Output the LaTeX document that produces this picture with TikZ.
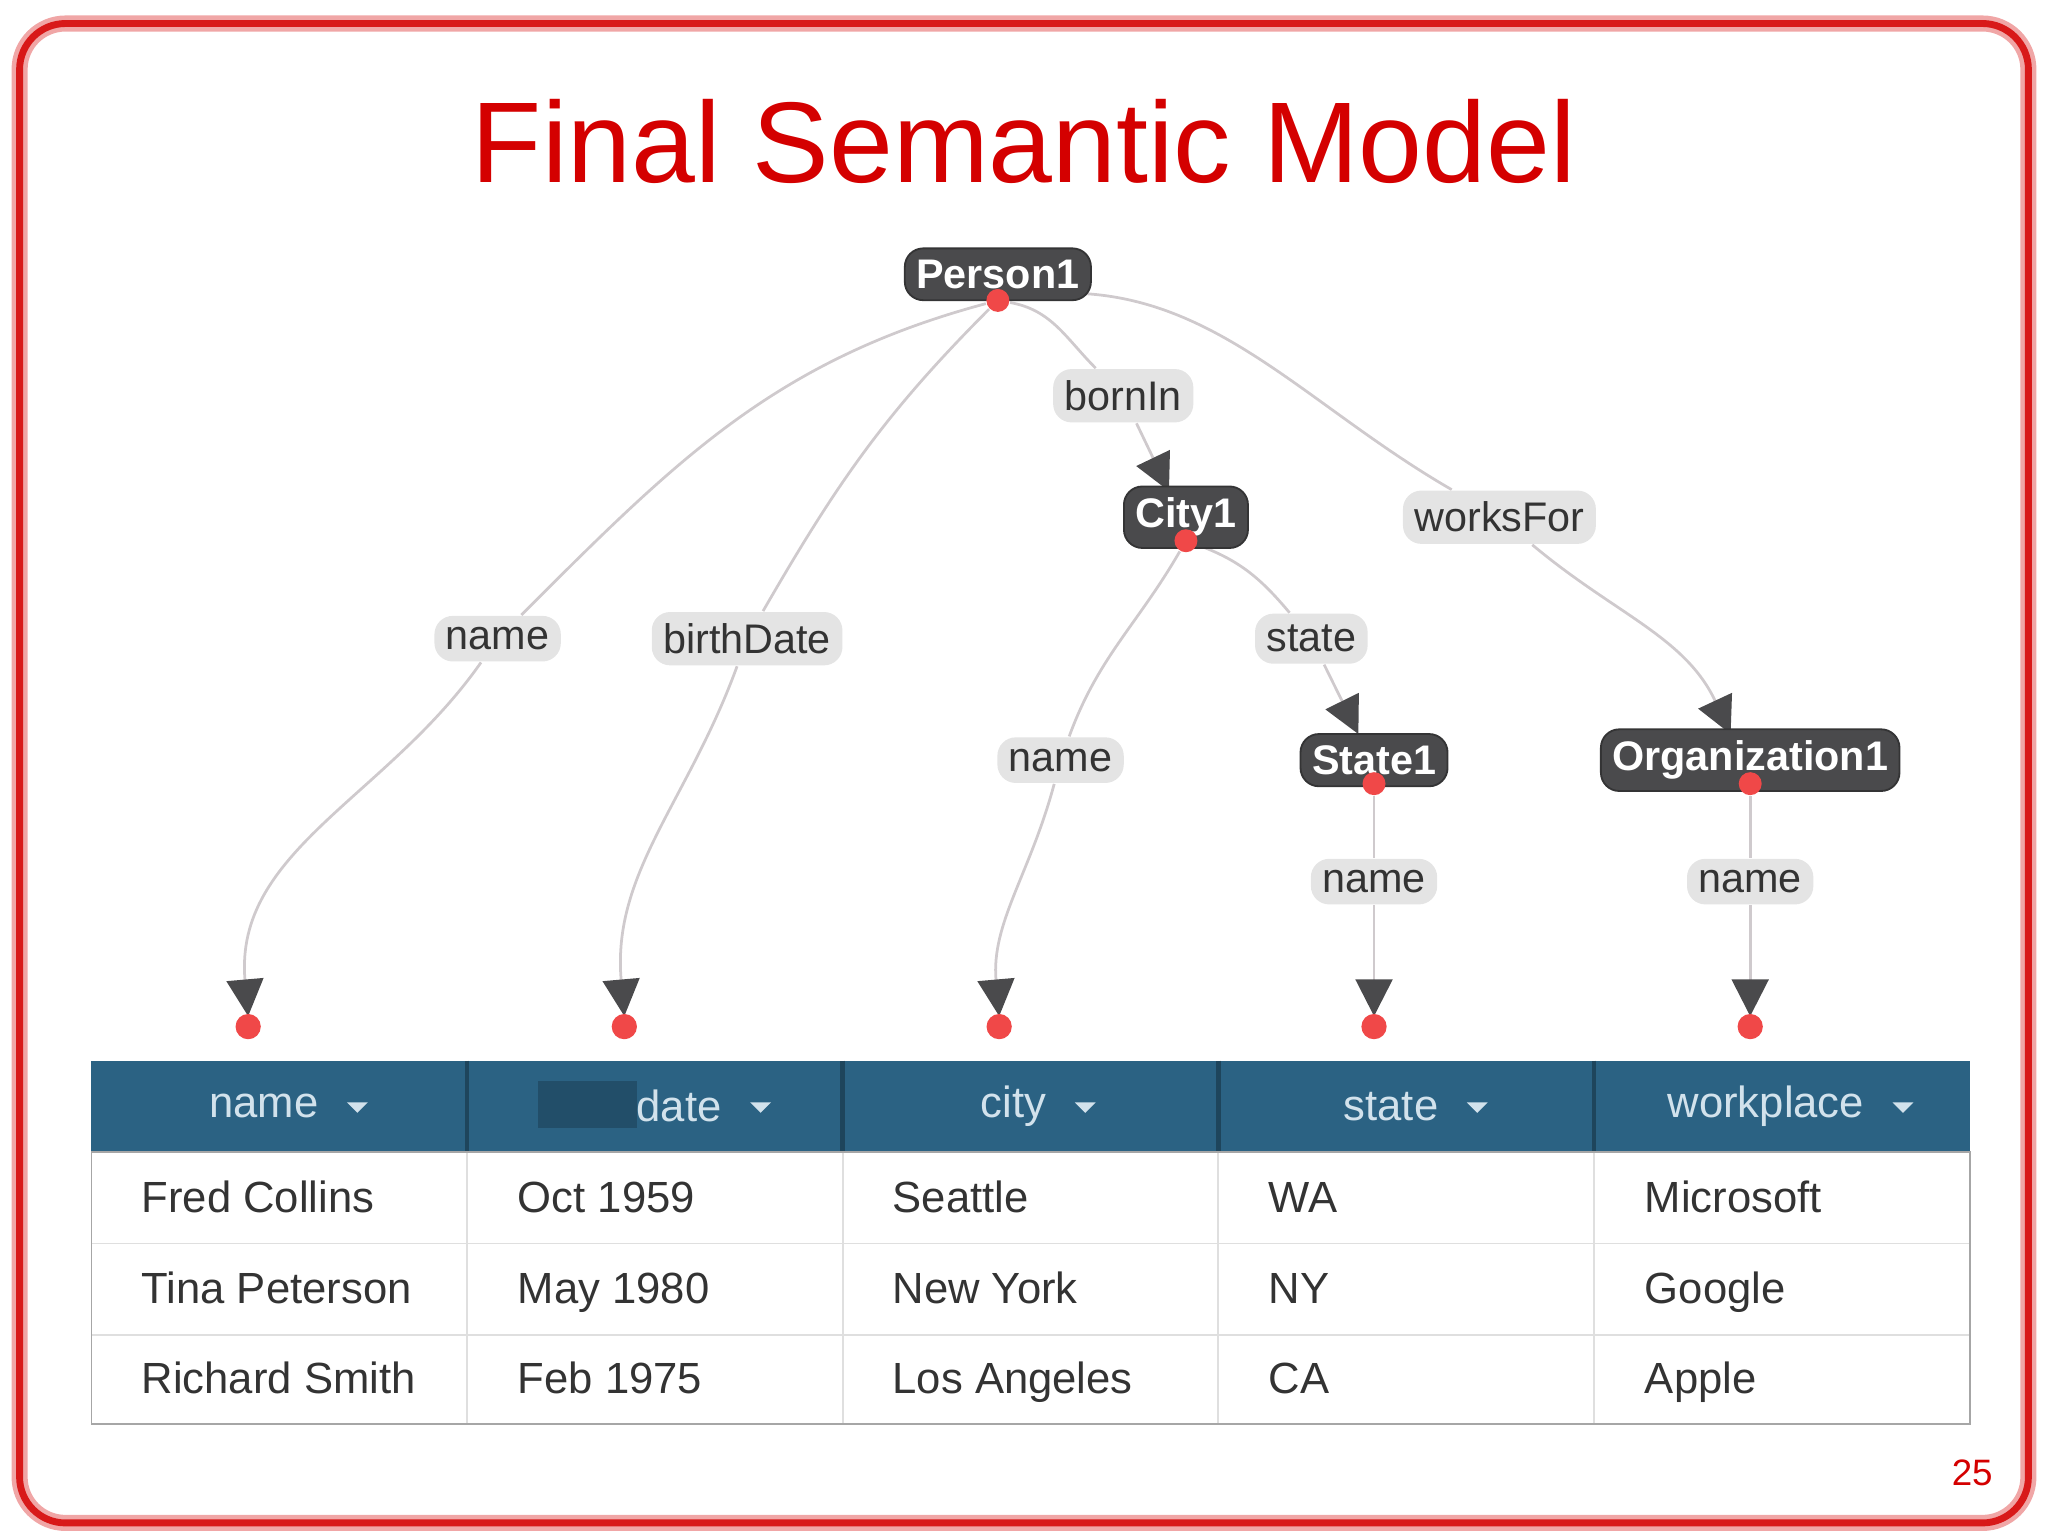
\documentclass[tikz,border=0pt]{standalone}
\usepackage{fontspec}
\setmainfont{Liberation Sans}
\usetikzlibrary{arrows.meta,backgrounds}
\definecolor{slidered}{HTML}{D40000}
\definecolor{nodegray}{HTML}{4A4A4C}
\definecolor{lblgray}{HTML}{E4E4E4}
\definecolor{edgegray}{HTML}{CFCACD}
\definecolor{headblue}{HTML}{2B6283}
\definecolor{headtext}{HTML}{D2E2EC}
\definecolor{celltext}{HTML}{333333}
\definecolor{dotred}{HTML}{F04848}
\begin{document}
\begin{tikzpicture}[x=0.01cm,y=-0.01cm,
  cls/.style={fill=nodegray,draw=nodegray!70!black,rounded corners=4pt,text=white,font=\fontsize{9}{11}\selectfont\bfseries,inner sep=2.5pt},
  lbl/.style={fill=lblgray,rounded corners=4pt,text=celltext,font=\fontsize{9}{11}\selectfont,inner sep=2.5pt},
  edge/.style={draw=edgegray,line width=0.6pt},
  arr/.style={edge,-{Triangle[length=8pt,width=8pt,fill=nodegray,color=nodegray]}},
  dot/.style={circle,fill=dotred,inner sep=0pt,minimum size=5pt},
  head/.style={text=headtext,font=\fontsize{9.5}{11}\selectfont,inner sep=0pt},
  cell/.style={anchor=base west,text=celltext,font=\fontsize{9.5}{11}\selectfont}]
\useasboundingbox (0,0) rectangle (1568,1176);
\draw[slidered!35,line width=3.5pt,rounded corners=10pt] (15,18) rectangle (1553,1166);
\draw[slidered!90,line width=1.5pt,rounded corners=10pt] (15,18) rectangle (1553,1166);

\node[text=slidered,font=\fontsize{25}{28}\selectfont] (title) at (784,108) {Final Semantic Model};
\node[text=slidered,font=\fontsize{8}{10}\selectfont] (page) at (1510,1128) {25};

% class nodes
\node[cls] (P) at (764,210) {Person1};
\node[cls] (C) at (908,396) {City1};
\node[cls] (S) at (1052,582) {State1};
\node[cls] (O) at (1340,582) {Organization1};

% property labels
\node[lbl] (bornL) at (860,303) {bornIn};
\node[lbl] (worksL) at (1148,396) {worksFor};
\node[lbl] (nameL) at (381,489) {name};
\node[lbl] (birthL) at (572,489) {birthDate};
\node[lbl] (stateL) at (1004,489) {state};
\node[lbl] (nameC) at (812,582) {name};
\node[lbl] (nameS) at (1052,675) {name};
\node[lbl] (nameO) at (1340,675) {name};

% dots
\node[dot] (dP) at (764,230) {};
\node[dot] (dC) at (908,414) {};
\node[dot] (dS) at (1052,600) {};
\node[dot] (dO) at (1340,600) {};
\foreach \x/\n in {190/1,478/2,765/3,1052/4,1340/5}{
  \node[dot,minimum size=5.5pt] (c\n) at (\x,786) {};
  \coordinate (t\n) at (\x,778);
}
\coordinate (tC) at (895,376);
\coordinate (tS) at (1040,562);
\coordinate (tO) at (1325,562);

\begin{scope}[on background layer]
\draw[edge] (dP) to[out=195,in=45] (nameL);
\draw[arr] (nameL) to[out=235,in=95] (t1);
\draw[edge] (dP) to[out=225,in=60] (birthL);
\draw[arr] (birthL) to[out=250,in=95] (t2);
\draw[edge] (dP) to[out=-10,in=135] (bornL);
\draw[arr] (bornL) -- (tC);
\draw[edge] (dP) to[out=10,in=150] (worksL);
\draw[arr] (worksL) to[out=-40,in=115] (tO);
\draw[edge] (dC) to[out=240,in=70] (nameC);
\draw[arr] (nameC) to[out=255,in=95] (t3);
\draw[edge] (dC) to[out=-20,in=130] (stateL);
\draw[arr] (stateL) -- (tS);
\draw[edge] (dS) -- (nameS);
\draw[arr] (nameS) -- (t4);
\draw[edge] (dO) -- (nameO);
\draw[arr] (nameO) -- (t5);
\end{scope}

% table
\fill[headblue] (70,812) rectangle (1508,882);
\fill[headblue!80!black] (412,828) rectangle (488,864);
\foreach \i in {1,2,3,4}{
  \draw[headblue!70!black,line width=1pt] (70+287.6*\i,812) -- (70+287.6*\i,882);
  \draw[gray!25] (70+287.6*\i,882) -- (70+287.6*\i,1090);
}
\draw[gray!25] (70,952) -- (1508,952) (70,1022) -- (1508,1022);
\draw[gray!70] (70,882) rectangle (1508,1090);
\foreach \x/\t/\n in {202/name/1,520/date/2,776/city/3,1065/state/4,1352/workplace/5}{
  \node[head] (h\n) at (\x,847) {\t};
  \fill[headtext] ([xshift=6]h\n.east) ++(0,-3) -- ++(16,0) -- ++(-8,8) -- cycle;
}
\node[cell] (r1a) at (96,928) {Fred Collins};
\node[cell] (r1b) at (384,928) {Oct 1959};
\node[cell] (r1c) at (671,928) {Seattle};
\node[cell] (r1d) at (959,928) {WA};
\node[cell] (r1e) at (1247,928) {Microsoft};
\node[cell] (r2a) at (96,998) {Tina Peterson};
\node[cell] (r2b) at (384,998) {May 1980};
\node[cell] (r2c) at (671,998) {New York};
\node[cell] (r2d) at (959,998) {NY};
\node[cell] (r2e) at (1247,998) {Google};
\node[cell] (r3a) at (96,1067) {Richard Smith};
\node[cell] (r3b) at (384,1067) {Feb 1975};
\node[cell] (r3c) at (671,1067) {Los Angeles};
\node[cell] (r3d) at (959,1067) {CA};
\node[cell] (r3e) at (1247,1067) {Apple};
\end{tikzpicture}
\end{document}
